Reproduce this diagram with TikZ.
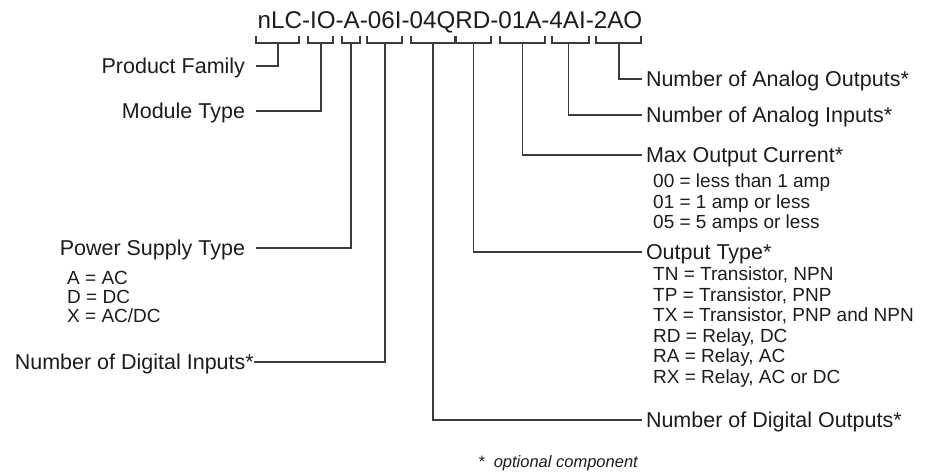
\documentclass[tikz,border=0pt]{standalone}
\usepackage{fontspec}
\setmainfont{Liberation Sans}
\definecolor{ink}{HTML}{1E1B1C}
\definecolor{wire}{HTML}{3C3C3C}
\begin{document}
\begin{tikzpicture}[x=1pt,y=-1pt,
  wirestyle/.style={draw=wire, line width=1.1pt},
  lab/.style={inner sep=0pt, text=ink, font=\fontsize{21.5}{24}\selectfont, text height=15.4pt, text depth=0pt},
  leftlab/.style={lab, anchor=east, outer xsep=11pt},
  rightlab/.style={lab, anchor=west, outer xsep=4pt},
  sub/.style={inner sep=0pt, text=ink, font=\fontsize{19}{22}\selectfont, text height=13.6pt, text depth=0pt, anchor=west},
  ]
\useasboundingbox (0,0) rectangle (932,475);
\node[inner sep=0pt, text=ink, font=\fontsize{24.2}{27}\selectfont, text height=17.3pt, text depth=0pt] (code) at (450,19.5) {nLC-IO-A-06I-04QRD-01A-4AI-2AO};
\foreach \a/\b/\c/\n in {256/299/278/1, 308/333/321/2, 342/360/351/3, 367/402/385/4, 411/455/433/5, 456/491/473.5/6, 500/545/522.5/7, 552/589/568.5/8, 596/641/619/9}{
  \draw[wirestyle] (\a,36) -- (\a,43) -- (\b,43) -- (\b,36);
  \coordinate (s\n) at (\c,43);
}
% left labels
\node[leftlab] (pf) at (256,66) {Product Family};
\node[leftlab] (mt) at (256,111) {Module Type};
\node[leftlab] (pst) at (256,248) {Power Supply Type};
\node[lab, anchor=east] (ndi) at (254,362) {Number of Digital Inputs*};
\node[sub] (ps1) at (67,278) {A = AC};
\node[sub] (ps2) at (67,297) {D = DC};
\node[sub] (ps3) at (67,316) {X = AC/DC};
% right labels
\node[rightlab] (ao) at (642,79) {Number of Analog Outputs*};
\node[rightlab] (ai) at (642,115) {Number of Analog Inputs*};
\node[rightlab] (moc) at (642,155) {Max Output Current*};
\node[sub] (mc1) at (653,181) {00 = less than 1 amp};
\node[sub] (mc2) at (653,201.5) {01 = 1 amp or less};
\node[sub] (mc3) at (653,222) {05 = 5 amps or less};
\node[rightlab] (ot) at (642,252) {Output Type*};
\node[sub] (ot1) at (653,274) {TN = Transistor, NPN};
\node[sub] (ot2) at (653,294.5) {TP = Transistor, PNP};
\node[sub] (ot3) at (653,315) {TX = Transistor, PNP and NPN};
\node[sub] (ot4) at (653,335.5) {RD = Relay, DC};
\node[sub] (ot5) at (653,356) {RA = Relay, AC};
\node[sub] (ot6) at (653,376.5) {RX = Relay, AC or DC};
\node[rightlab] (ndo) at (642,420) {Number of Digital Outputs*};
\node[inner sep=0pt, text=ink, font=\fontsize{16.5}{18}\selectfont\itshape, anchor=west] (fn) at (478,463) {*\ \ optional component};
% connectors
\draw[wirestyle] (pf.east) -| (s1);
\draw[wirestyle] (mt.east) -| (s2);
\draw[wirestyle] (pst.east) -| (s3);
\draw[wirestyle] (ndi.east) -| (s4);
\draw[wirestyle] (s5) |- (ndo.west);
\draw[wirestyle] (s6) |- (ot.west);
\draw[wirestyle] (s7) |- (moc.west);
\draw[wirestyle] (s8) |- (ai.west);
\draw[wirestyle] (s9) |- (ao.west);
\end{tikzpicture}
\end{document}
